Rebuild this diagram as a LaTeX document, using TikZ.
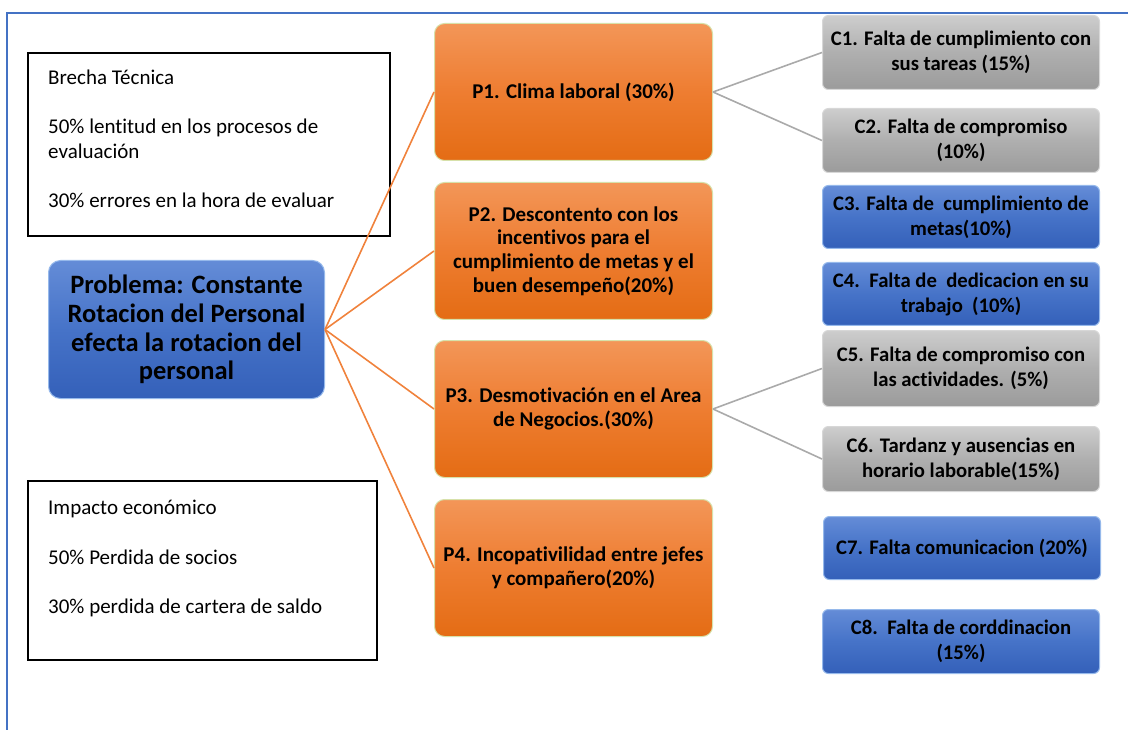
\documentclass[tikz,border=0pt]{standalone}
\usepackage{fontspec}
\setmainfont{Carlito}[RawFeature={-liga;-dlig;-clig}]
\usetikzlibrary{positioning}

\definecolor{frameblue}{RGB}{68,114,196}
\definecolor{orangetop}{RGB}{243,150,88}
\definecolor{orangemid}{RGB}{238,125,49}
\definecolor{orangebot}{RGB}{228,108,20}
\definecolor{orangerim}{RGB}{215,225,170}
\definecolor{bluetop}{RGB}{100,140,215}
\definecolor{bluemid}{RGB}{70,115,200}
\definecolor{bluebot}{RGB}{52,96,185}
\definecolor{bluerim}{RGB}{150,185,235}
\definecolor{graytop}{RGB}{205,205,205}
\definecolor{graymid}{RGB}{175,175,175}
\definecolor{graybot}{RGB}{155,155,155}
\definecolor{grayrim}{RGB}{215,215,215}
\definecolor{grayline}{RGB}{170,170,170}
\definecolor{orangeline}{RGB}{240,130,60}

\tikzset{
  notebox/.style={draw=black, line width=2pt, fill=white, inner sep=0pt, anchor=north west},
  notetext/.style={anchor=north west, align=left, inner sep=0pt,
    font=\fontsize{21}{24.5}\selectfont},
  probbox/.style={rounded corners=12pt, top color=bluetop, bottom color=bluebot, middle color=bluemid,
    draw=bluerim, line width=1pt, inner sep=0pt, anchor=north west, align=center,
    minimum width=276pt, minimum height=138pt,
    font=\fontsize{26.5}{28.7}\selectfont\bfseries},
  pbox/.style={rounded corners=10pt, top color=orangetop, bottom color=orangebot, middle color=orangemid,
    draw=orangerim, line width=1pt, inner sep=0pt, anchor=north west, align=center,
    minimum width=278pt, minimum height=137pt,
    font=\fontsize{21}{23.7}\selectfont\bfseries},
  cgray/.style={rounded corners=6pt, top color=graytop, bottom color=graybot, middle color=graymid,
    draw=grayrim, line width=1pt, inner sep=0pt, anchor=north west, align=center,
    minimum width=277pt,
    font=\fontsize{20.7}{25}\selectfont\bfseries},
  cblue/.style={rounded corners=6pt, top color=bluetop, bottom color=bluebot, middle color=bluemid,
    draw=bluerim, line width=1pt, inner sep=0pt, anchor=north west, align=center,
    minimum width=277pt,
    font=\fontsize{20.7}{25}\selectfont\bfseries},
  olink/.style={draw=orangeline, line width=1.6pt},
  glink/.style={draw=grayline, line width=1.6pt},
}

\begin{document}
\begin{tikzpicture}[x=1pt,y=-1pt]
\useasboundingbox (0,0) rectangle (1128,730);

% page frame (top and left edges)
\draw[frameblue, line width=2pt] (1128,13) -- (7,13) -- (7,730);

% side notes
\node[notebox, minimum width=362pt, minimum height=183pt] (brecha) at (27,52) {};
\node[notetext] (brechatxt) at (48,70) {Brecha Técnica\\[24.5pt]50\% lentitud en los procesos de\\evaluación\\[24.5pt]30\% errores en la hora de evaluar};

\node[notebox, minimum width=349pt, minimum height=179pt] (impacto) at (27,480) {};
\node[notetext] (impactotxt) at (48,500) {Impacto económico\\[25pt]50\% Perdida de socios\\[25pt]30\% perdida de cartera de saldo};

% main problem
\node[probbox] (prob) at (48,260) {Problema: Constante\\Rotacion del Personal\\efecta la rotacion del\\personal};

% first-level causes
\node[pbox] (p1) at (434,23) {P1. Clima laboral (30\%)};
\node[pbox] (p2) at (434,182) {P2. Descontento con los\\incentivos para el\\cumplimiento de metas y el\\buen desempeño(20\%)};
\node[pbox] (p3) at (434,340) {P3. Desmotivación en el Area\\de Negocios.(30\%)};
\node[pbox] (p4) at (434,499) {P4. Incopativilidad entre jefes\\y compañero(20\%)};

% second-level causes
\node[cgray, minimum height=74pt] (c1) at (822,15) {C1. Falta de cumplimiento con\\sus tareas (15\%)};
\node[cgray, minimum height=64pt] (c2) at (822,108) {C2. Falta de compromiso\\(10\%)};
\node[cblue, minimum height=63pt] (c3) at (822,185) {C3. Falta de\ \ cumplimiento de\\metas(10\%)};
\node[cblue, minimum height=63pt] (c4) at (822,262) {C4.\ \ Falta de\ \ dedicacion en su\\trabajo\ \ (10\%)};
\node[cgray, minimum height=76pt] (c5) at (822,330) {C5. Falta de compromiso con\\las actividades. (5\%)};
\node[cgray, minimum height=65pt] (c6) at (822,426) {C6. Tardanz y ausencias en\\horario laborable(15\%)};
\node[cblue, minimum height=63pt] (c7) at (823,516) {C7. Falta comunicacion (20\%)};
\node[cblue, minimum height=64pt] (c8) at (822,609) {C8.\ \ Falta de corddinacion\\(15\%)};

% connectors
\draw[olink] (prob.east) -- (p1.west);
\draw[olink] (prob.east) -- (p2.west);
\draw[olink] (prob.east) -- (p3.west);
\draw[olink] (prob.east) -- (p4.west);
\draw[glink] (p1.east) -- (c1.west);
\draw[glink] (p1.east) -- (c2.west);
\draw[glink] (p3.east) -- (c5.west);
\draw[glink] (p3.east) -- (c6.west);
\end{tikzpicture}
\end{document}
